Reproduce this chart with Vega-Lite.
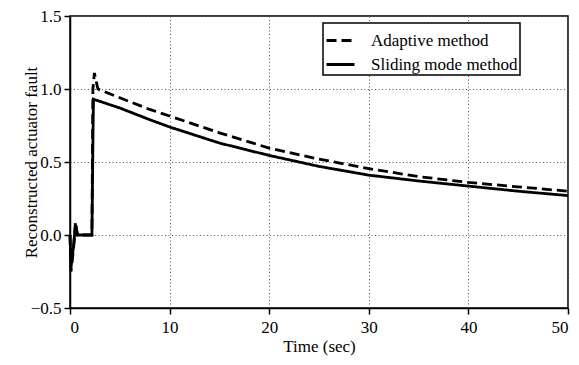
{
  "$schema": "https://vega.github.io/schema/vega-lite/v6.json",
  "autosize": {"type": "none"},
  "width": 498,
  "height": 292,
  "padding": {"left": 70, "top": 16, "right": 11, "bottom": 57},
  "background": "white",
  "view": {"stroke": "#000", "strokeWidth": 1.5},
  "data": {"values": [
    {"t": 0.0, "v": 0.0, "s": "Adaptive method"},
    {"t": 0.1, "v": -0.25, "s": "Adaptive method"},
    {"t": 0.35, "v": -0.1, "s": "Adaptive method"},
    {"t": 0.55, "v": 0.09, "s": "Adaptive method"},
    {"t": 0.75, "v": 0.0, "s": "Adaptive method"},
    {"t": 2.2, "v": 0.0, "s": "Adaptive method"},
    {"t": 2.3, "v": 1.0, "s": "Adaptive method"},
    {"t": 2.45, "v": 1.11, "s": "Adaptive method"},
    {"t": 2.8, "v": 1.0, "s": "Adaptive method"},
    {"t": 5, "v": 0.94, "s": "Adaptive method"},
    {"t": 8, "v": 0.86, "s": "Adaptive method"},
    {"t": 10, "v": 0.815, "s": "Adaptive method"},
    {"t": 15, "v": 0.7, "s": "Adaptive method"},
    {"t": 20, "v": 0.595, "s": "Adaptive method"},
    {"t": 25, "v": 0.52, "s": "Adaptive method"},
    {"t": 30, "v": 0.455, "s": "Adaptive method"},
    {"t": 35, "v": 0.4, "s": "Adaptive method"},
    {"t": 40, "v": 0.36, "s": "Adaptive method"},
    {"t": 45, "v": 0.33, "s": "Adaptive method"},
    {"t": 50, "v": 0.3, "s": "Adaptive method"},
    {"t": 0.0, "v": 0.0, "s": "Sliding mode method"},
    {"t": 0.1, "v": -0.22, "s": "Sliding mode method"},
    {"t": 0.35, "v": -0.08, "s": "Sliding mode method"},
    {"t": 0.55, "v": 0.07, "s": "Sliding mode method"},
    {"t": 0.75, "v": 0.0, "s": "Sliding mode method"},
    {"t": 2.2, "v": 0.0, "s": "Sliding mode method"},
    {"t": 2.35, "v": 0.93, "s": "Sliding mode method"},
    {"t": 5, "v": 0.87, "s": "Sliding mode method"},
    {"t": 8, "v": 0.79, "s": "Sliding mode method"},
    {"t": 10, "v": 0.74, "s": "Sliding mode method"},
    {"t": 15, "v": 0.63, "s": "Sliding mode method"},
    {"t": 20, "v": 0.545, "s": "Sliding mode method"},
    {"t": 25, "v": 0.47, "s": "Sliding mode method"},
    {"t": 30, "v": 0.41, "s": "Sliding mode method"},
    {"t": 35, "v": 0.37, "s": "Sliding mode method"},
    {"t": 40, "v": 0.335, "s": "Sliding mode method"},
    {"t": 45, "v": 0.3, "s": "Sliding mode method"},
    {"t": 50, "v": 0.27, "s": "Sliding mode method"}
  ]},
  "mark": {"type": "line", "color": "black", "strokeWidth": 2.8},
  "encoding": {
    "x": {"field": "t", "type": "quantitative", "title": "Time (sec)",
      "scale": {"domain": [0, 50], "nice": false},
      "axis": {"values": [0, 10, 20, 30, 40, 50], "titlePadding": 3, "labelPadding": 5,
        "labelFont": "Liberation Serif", "titleFont": "Liberation Serif",
        "labelFontSize": 17, "titleFontSize": 17, "labelColor": "#000", "titleColor": "#000",
        "titleFontWeight": "normal", "domainColor": "#000", "domainWidth": 1.5,
        "tickColor": "#000", "tickWidth": 1.5, "tickSize": 6,
        "gridColor": "#555", "gridDash": [1, 2.5], "gridWidth": 1}},
    "y": {"field": "v", "type": "quantitative", "title": "Reconstructed actuator fault",
      "scale": {"domain": [-0.5, 1.5], "nice": false},
      "axis": {"values": [-0.5, 0, 0.5, 1, 1.5], "format": ".1f", "labelPadding": 3,
        "titleX": -30, "titleBaseline": "bottom",
        "labelFont": "Liberation Serif", "titleFont": "Liberation Serif",
        "labelFontSize": 17, "titleFontSize": 17, "labelColor": "#000", "titleColor": "#000",
        "titleFontWeight": "normal", "domainColor": "#000", "domainWidth": 1.5,
        "tickColor": "#000", "tickWidth": 1.5, "tickSize": 6,
        "gridColor": "#555", "gridDash": [1, 2.5], "gridWidth": 1}},
    "strokeDash": {"field": "s", "type": "nominal", "title": null,
      "scale": {"domain": ["Adaptive method", "Sliding mode method"], "range": [[10, 5], [1, 0]]},
      "legend": {"orient": "none", "legendX": 253, "legendY": 7,
        "strokeColor": "#000", "fillColor": "#fff", "padding": 2,
        "symbolType": "stroke", "symbolStrokeColor": "#000", "symbolStrokeWidth": 2.8, "symbolSize": 784,
        "labelFont": "Liberation Serif", "labelFontSize": 17, "labelColor": "#000", "labelOffset": 15,
        "rowPadding": -8, "labelLimit": 300, "symbolOffset": 0,
        "encode": {"legend": {"update": {"stroke": {"value": "#000"}, "strokeWidth": {"value": 1.5}}}}}}
  },
  "order": {"field": "t"}
}
